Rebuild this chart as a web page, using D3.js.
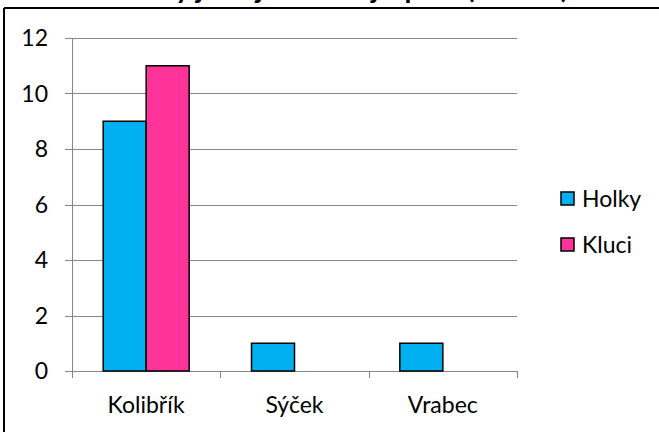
<!DOCTYPE html>
<html>
<head>
<meta charset="utf-8">
<script src="https://cdn.jsdelivr.net/npm/d3@7"></script>
<style>
  html, body { margin: 0; padding: 0; background: #fff; }
  svg { display: block; }
  text { font-family: Lato, "Open Sans", sans-serif; fill: #000; }
</style>
</head>
<body>
<script>
const title = "Který je nejoblíbenější pták (celkem)";
const categories = ["Kolibřík", "Sýček", "Vrabec"];
const seriesNames = ["Holky", "Kluci"];
const holky = [9, 1, 1];
const kluci = [11, 0, 0];
const yTicks = [0, 2, 4, 6, 8, 10, 12];
const colors = ["#00B0F0", "#FF3399"];

(function () {
const W = 659, H = 432;
const svg = d3.select("body").append("svg").attr("width", W).attr("height", H);

// frame
svg.append("line").attr("x1", 4).attr("x2", W).attr("y1", 8).attr("y2", 8)
  .attr("stroke", "#000").attr("stroke-width", 2);
svg.append("line").attr("x1", 4).attr("x2", 4).attr("y1", 8).attr("y2", H)
  .attr("stroke", "#000").attr("stroke-width", 2);

// title (clipped at top, as in the reference)
svg.append("text").attr("x", 345).attr("y", -2).attr("text-anchor", "middle")
  .attr("font-size", 28).attr("font-weight", "bold").text(title);

const pl = 72, pr = 517, pt = 38, pb = 371;
const x = d3.scaleBand().domain(categories).range([pl, pr]).paddingInner(0).paddingOuter(0);
const xs = d3.scaleBand().domain(seriesNames).range([0, x.bandwidth()]).paddingInner(0).paddingOuter(0.725);
const y = d3.scaleLinear().domain([0, 12]).range([pb, pt]);

// gridlines
svg.append("g").selectAll("line").data(yTicks).join("line")
  .attr("x1", pl - 7).attr("x2", pr)
  .attr("y1", d => Math.round(y(d)) + 0.5).attr("y2", d => Math.round(y(d)) + 0.5)
  .attr("stroke", "#868686").attr("stroke-width", 1);

// y axis line
svg.append("line").attr("x1", pl + 0.5).attr("x2", pl + 0.5).attr("y1", pt).attr("y2", pb)
  .attr("stroke", "#868686");

// y labels
svg.append("g").selectAll("text").data(yTicks).join("text")
  .attr("x", 48).attr("y", d => y(d)).attr("dy", "0.36em").attr("text-anchor", "end")
  .attr("font-size", 23).text(d => d);

// x ticks
const xTickPos = categories.map(c => x(c)).concat([pr]);
svg.append("g").selectAll("line").data(xTickPos).join("line")
  .attr("x1", d => Math.round(d) + 0.5).attr("x2", d => Math.round(d) + 0.5)
  .attr("y1", pb).attr("y2", pb + 7)
  .attr("stroke", "#868686");

// bars
const data = [];
categories.forEach((c, i) => {
  [holky[i], kluci[i]].forEach((v, j) => {
    if (v > 0) data.push({ c, s: seriesNames[j], v, color: colors[j] });
  });
});
svg.append("g").selectAll("rect").data(data).join("rect")
  .attr("x", d => x(d.c) + xs(d.s))
  .attr("width", xs.bandwidth())
  .attr("y", d => y(d.v))
  .attr("height", d => y(0) - y(d.v))
  .attr("fill", d => d.color)
  .attr("stroke", "#000").attr("stroke-width", 1.5);

// x labels
svg.append("g").selectAll("text").data(categories).join("text")
  .attr("x", d => x(d) + x.bandwidth() / 2).attr("y", 405).attr("dy", "0.36em")
  .attr("text-anchor", "middle").attr("font-size", 23).text(d => d);

// legend
const lg = svg.append("g").selectAll("g").data(seriesNames).join("g")
  .attr("transform", (d, i) => `translate(561, ${192 + i * 46})`);
lg.append("rect").attr("width", 13).attr("height", 13)
  .attr("fill", (d, i) => colors[i]).attr("stroke", "#000").attr("stroke-width", 1.5);
lg.append("text").attr("x", 21).attr("y", 7).attr("dy", "0.36em")
  .attr("font-size", 23).text(d => d);
})();
</script>
</body>
</html>
